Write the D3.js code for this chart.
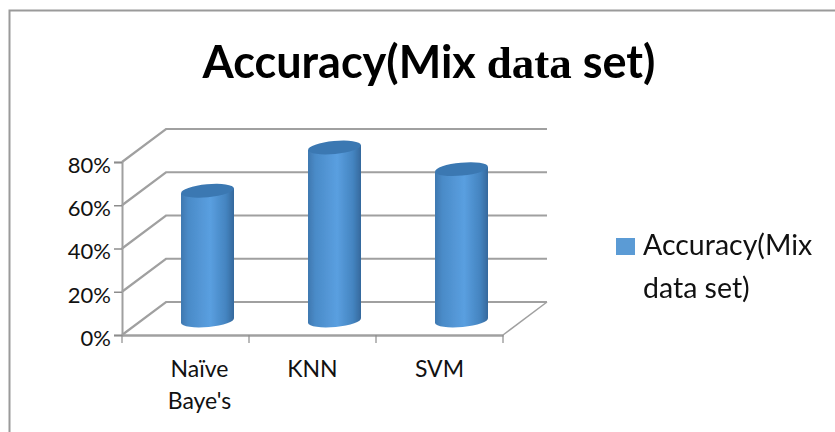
<!DOCTYPE html>
<html>
<head>
<meta charset="utf-8">
<script src="https://cdn.jsdelivr.net/npm/d3@7"></script>
<style>
  html, body { margin: 0; padding: 0; background: #fff; }
  svg { display: block; }
  text { fill: #111; font-family: Lato, "Open Sans", sans-serif; }
</style>
</head>
<body>
<div id="chart"></div>
<script>
// Data
const categories = ["Naïve Baye's", "KNN", "SVM"];
const accuracy = [0.6, 0.8, 0.7];
const yTicks = [0, 0.2, 0.4, 0.6, 0.8];
const seriesName = "Accuracy(Mix data set)";

const w = 835, h = 432;

// Floor depth of the fake 3D box
const depthX = 44, depthY = -33;

const svg = d3.select("#chart").append("svg")
    .attr("width", w)
    .attr("height", h);

// Cylinder shading
const defs = svg.append("defs");
const grad = defs.append("linearGradient").attr("id", "cyl");
[["0%", "#3f78b0"], ["14%", "#4a8bc8"], ["55%", "#5a9fe0"], ["85%", "#4484c0"], ["100%", "#35689c"]]
    .forEach(s => grad.append("stop").attr("offset", s[0]).attr("stop-color", s[1]));
defs.append("filter").attr("id", "soft")
    .append("feGaussianBlur").attr("stdDeviation", 0.5);

// Outer frame, only top and left sides show in the original
svg.append("path")
    .attr("d", "M9.5," + h + "V10.5H" + w)
    .attr("fill", "none")
    .attr("stroke", "#9a9a9a")
    .attr("stroke-width", 2);

// Scales
const xScale = d3.scaleBand().domain(categories).range([122, 503]);
const yScale = d3.scaleLinear().domain([0, 0.8]).range([335, 162]);

const grid = svg.append("g").attr("fill", "none").attr("stroke", "#a0a0a0").attr("stroke-width", 2.2);

// Back wall lines and side wall lines
yTicks.forEach(t => {
    const y = yScale(t);
    grid.append("path")
        .attr("d", "M" + xScale.range()[0] + "," + y
            + "L" + (xScale.range()[0] + depthX) + "," + (y + depthY)
            + "L" + (xScale.range()[1] + depthX) + "," + (y + depthY));
});

// Right edge of the floor
grid.append("line")
    .attr("x1", xScale.range()[1]).attr("y1", yScale(0))
    .attr("x2", xScale.range()[1] + depthX).attr("y2", yScale(0) + depthY)
    .attr("stroke-width", 1.5);

// Axes
const xAxis = d3.axisBottom(xScale).tickSize(0).tickFormat("");
svg.append("g")
    .attr("transform", "translate(0," + yScale(0) + ")")
    .call(xAxis)
    .call(g => g.select(".domain").attr("stroke", "#a0a0a0").attr("stroke-width", 2.5));

const yAxis = d3.axisLeft(yScale)
    .tickValues(yTicks)
    .tickSize(8)
    .tickPadding(3)
    .tickFormat(d3.format(".0%"));
svg.append("g")
    .attr("transform", "translate(" + xScale.range()[0] + ",0)")
    .call(yAxis)
    .call(g => g.select(".domain").attr("stroke", "#a0a0a0").attr("stroke-width", 2))
    .call(g => g.selectAll("line").attr("stroke", "#8c8c8c").attr("stroke-width", 1.5))
    .call(g => g.selectAll("text")
        .attr("font-size", 22)
        .attr("dy", "0.47em")
        .attr("fill", "#111")
        .style("font-family", "Lato"));

// Category ticks below the floor line
const edges = categories.map(c => xScale(c)).concat(xScale.range()[1]);
svg.append("g").selectAll("line")
    .data(edges)
    .join("line")
    .attr("x1", d => d).attr("x2", d => d)
    .attr("y1", yScale(0)).attr("y2", yScale(0) + 8)
    .attr("stroke", "#8c8c8c")
    .attr("stroke-width", 1.2);

// Category labels, the wrapped one sits off centre in the original
svg.append("g").selectAll("text")
    .data(categories)
    .join("text")
    .attr("text-anchor", "middle")
    .attr("font-size", 23)
    .attr("y", 377)
    .each(function(d) {
        const words = d.split(" ");
        const cx = xScale(d) + xScale.bandwidth() / 2 + (words.length > 1 ? 14 : 0);
        words.forEach((word, i) => {
            d3.select(this).append("tspan")
                .attr("x", cx)
                .attr("dy", i ? 32 : 0)
                .text(word);
        });
    });

// Cylinders, centred half way into the floor depth
const rx = 26.5, ry = 6.5, tilt = 2.5;
const bars = svg.append("g").attr("filter", "url(#soft)");

categories.forEach((c, i) => {
    const cx = xScale(c) + xScale.bandwidth() / 2 + depthX / 2;
    const yBase = yScale(0) + depthY / 2 + 2;
    const yTop = yScale(accuracy[i]) + depthY / 2 + 2;
    const x0 = cx - rx, x1 = cx + rx;

    bars.append("path")
        .attr("fill", "url(#cyl)")
        .attr("d", "M" + x0 + "," + (yTop + tilt)
            + "L" + x0 + "," + (yBase + tilt)
            + "A" + rx + "," + ry + " -5 0 0 " + x1 + "," + (yBase - tilt)
            + "L" + x1 + "," + (yTop - tilt)
            + "Z");

    bars.append("ellipse")
        .attr("cx", cx).attr("cy", yTop)
        .attr("rx", rx).attr("ry", ry)
        .attr("transform", "rotate(-5.4," + cx + "," + yTop + ")")
        .attr("fill", "#3b78b2");
});

// Title, the word "data" is set in a serif face in the original
const title = svg.append("text")
    .attr("x", 429).attr("y", 78)
    .attr("text-anchor", "middle")
    .attr("font-size", 45)
    .attr("font-weight", "bold")
    .style("fill", "#000");
title.append("tspan").text("Accuracy(Mix ");
title.append("tspan").style("font-family", "'Liberation Serif', serif").text("data");
title.append("tspan").text(" set)");

// Legend
svg.append("rect")
    .attr("x", 616).attr("y", 238)
    .attr("width", 19).attr("height", 17)
    .attr("fill", "#5b9bd5");

const words = seriesName.split(" ");
const legend = svg.append("text").attr("font-size", 28.5);
legend.append("tspan").attr("x", 643).attr("y", 255).text(words[0]);
legend.append("tspan").attr("x", 643).attr("y", 298).text(words.slice(1).join(" "));
</script>
</body>
</html>
